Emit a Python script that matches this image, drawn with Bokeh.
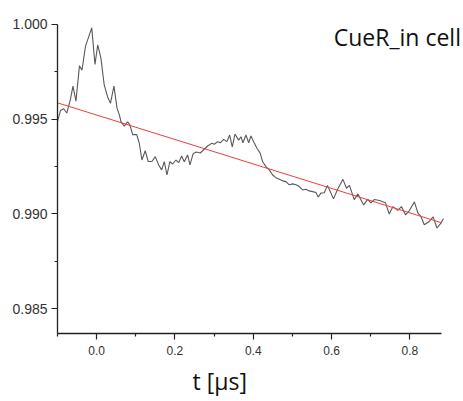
from bokeh.plotting import figure
from bokeh.models import FixedTicker, Range1d, Label, PrintfTickFormatter, Title
from bokeh.embed import file_html
from bokeh.resources import INLINE

# measured signal (time in microseconds, normalised echo)
t = [-0.1001, -0.0925, -0.0843, -0.0764, -0.0674, -0.0605, -0.0529, -0.0439, -0.0375, -0.0286,
     -0.0204, -0.0125, -0.0043, 0.0028, 0.0110, 0.0194, 0.0281, 0.0352, 0.0442, 0.0519,
     0.0582, 0.0621, 0.0705, 0.0792, 0.0851, 0.0920, 0.1022, 0.1088, 0.1157, 0.1241,
     0.1318, 0.1413, 0.1497, 0.1584, 0.1660, 0.1727, 0.1796, 0.1872, 0.1941, 0.2026,
     0.2095, 0.2171, 0.2238, 0.2324, 0.2383, 0.2467, 0.2549, 0.2646, 0.2748, 0.2835,
     0.2937, 0.3004, 0.3091, 0.3157, 0.3244, 0.3328, 0.3397, 0.3464, 0.3533, 0.3627,
     0.3686, 0.3737, 0.3813, 0.3883, 0.3941, 0.4010, 0.4095, 0.4179, 0.4240, 0.4324,
     0.4409, 0.4496, 0.4580, 0.4664, 0.4751, 0.4835, 0.4920, 0.5006, 0.5091, 0.5175,
     0.5262, 0.5346, 0.5430, 0.5517, 0.5602, 0.5660, 0.5729, 0.5814, 0.5895, 0.6049,
     0.6156, 0.6291, 0.6381, 0.6457, 0.6580, 0.6674, 0.6820, 0.6922, 0.7006, 0.7096,
     0.7224, 0.7377, 0.7474, 0.7568, 0.7696, 0.7785, 0.7888, 0.7985, 0.8117, 0.8207,
     0.8284, 0.8368, 0.8483, 0.8595, 0.8692, 0.8795, 0.8858]
signal = [0.99487, 0.99545, 0.99555, 0.99532, 0.99600, 0.99674, 0.99595, 0.99781, 0.99758, 0.99884,
          0.99934, 0.99982, 0.99789, 0.99892, 0.99821, 0.99679, 0.99617, 0.99583, 0.99674, 0.99559,
          0.99521, 0.99487, 0.99463, 0.99486, 0.99468, 0.99418, 0.99418, 0.99374, 0.99284, 0.99333,
          0.99276, 0.99276, 0.99302, 0.99258, 0.99232, 0.99275, 0.99205, 0.99275, 0.99263, 0.99284,
          0.99270, 0.99305, 0.99275, 0.99311, 0.99258, 0.99319, 0.99326, 0.99321, 0.99341, 0.99358,
          0.99372, 0.99367, 0.99381, 0.99375, 0.99393, 0.99381, 0.99416, 0.99354, 0.99421, 0.99389,
          0.99407, 0.99375, 0.99416, 0.99375, 0.99411, 0.99381, 0.99346, 0.99319, 0.99275, 0.99249,
          0.99232, 0.99205, 0.99191, 0.99183, 0.99174, 0.99170, 0.99153, 0.99158, 0.99153, 0.99144,
          0.99126, 0.99130, 0.99121, 0.99117, 0.99112, 0.99089, 0.99109, 0.99111, 0.99150, 0.99079,
          0.99130, 0.99182, 0.99135, 0.99150, 0.99075, 0.99105, 0.99047, 0.99076, 0.99058, 0.99076,
          0.99070, 0.99058, 0.98999, 0.99038, 0.99018, 0.99038, 0.98995, 0.99016, 0.99063, 0.99003,
          0.98986, 0.98942, 0.98958, 0.98984, 0.98925, 0.98951, 0.98975]

# linear background fit (end points)
fit_t = [-0.1, 0.882]
fit_y = [0.99586, 0.98952]

x_ticks = [0.0, 0.2, 0.4, 0.6, 0.8]
x_minor = [-0.1, 0.1, 0.3, 0.5, 0.7]
y_ticks = [0.985, 0.990, 0.995, 1.000]
y_minor = [0.9875, 0.9925, 0.9975]
x_axis_span = (-0.1, 0.881)
y_axis_span = (0.98368, 1.0)

title_text = "CueR_in cell"
xlabel_text = "t [\u03bcs]"

p = figure(width=463, height=401, output_backend="svg", toolbar_location=None,
           x_range=Range1d(-0.1, 0.93703), y_range=Range1d(0.98368, 1.001263),
           min_border_left=57, min_border_right=0, min_border_top=0,
           min_border_bottom=67)
p.background_fill_color = "white"
p.border_fill_color = "white"
p.outline_line_color = None
p.xgrid.visible = False
p.ygrid.visible = False

p.line(t, signal, line_color="#5a5a5a", line_width=1.1)
p.line(fit_t, fit_y, line_color="#f23c3c", line_width=1.0)

for ax in (p.xaxis[0], p.yaxis[0]):
    ax.axis_line_color = "#222222"
    ax.axis_line_width = 1.3
    ax.major_tick_line_color = "#222222"
    ax.minor_tick_line_color = "#222222"
    ax.major_tick_line_width = 1.2
    ax.minor_tick_line_width = 1.2
    ax.major_tick_in = 0
    ax.major_tick_out = 6
    ax.minor_tick_in = 0
    ax.minor_tick_out = 3
    ax.major_label_text_color = "#333333"
    ax.major_label_text_font = "Liberation Sans"

p.xaxis[0].bounds = x_axis_span
p.xaxis[0].ticker = FixedTicker(ticks=x_ticks, minor_ticks=x_minor)
p.xaxis[0].formatter = PrintfTickFormatter(format="%.1f")
p.xaxis[0].major_label_text_font_size = "12px"
p.xaxis[0].major_label_standoff = 6

p.yaxis[0].bounds = y_axis_span
p.yaxis[0].ticker = FixedTicker(ticks=y_ticks, minor_ticks=y_minor)
p.yaxis[0].formatter = PrintfTickFormatter(format="%.3f")
p.yaxis[0].major_label_text_font_size = "14px"
p.yaxis[0].major_label_standoff = 4

p.add_layout(Label(x=0.9305, y=0.99932, text=title_text, text_align="right",
                   text_baseline="alphabetic", text_font="Open Sans",
                   text_font_size="23px", text_color="#111111"))

p.add_layout(Title(text=xlabel_text, align="left", offset=135, text_font="Open Sans",
                   text_font_size="23px", text_font_style="normal",
                   text_color="#111111", standoff=10), "below")

open("out.html", "w").write(file_html(p, INLINE))
